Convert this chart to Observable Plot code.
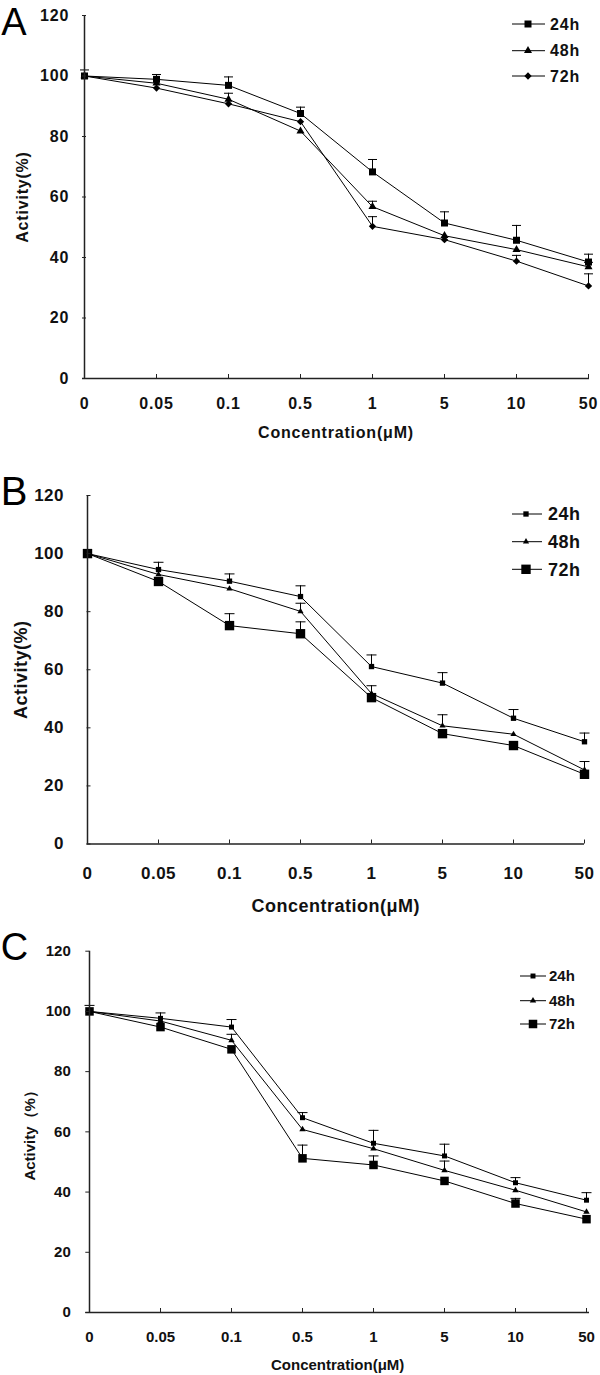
<!DOCTYPE html>
<html><head><meta charset="utf-8">
<script src="https://cdn.jsdelivr.net/npm/d3@7"></script>
<script src="https://cdn.jsdelivr.net/npm/@observablehq/plot@0.6"></script>
<style>
body{margin:0;background:#fff}
#wrap{position:relative;width:600px;height:1375px;overflow:hidden;background:#fff}
.panel{position:absolute;left:0;width:600px;overflow:visible}
.panel svg{overflow:visible}
.overlay{position:absolute;left:0;top:0;pointer-events:none}
</style>
</head><body><div id="wrap"></div>
<script>
const concentrations = ["0","0.05","0.1","0.5","1","5","10","50"];
const seriesNames = ["24h","48h","72h"];
const yTicks = [0,20,40,60,80,100,120];
const xTitle = "Concentration(μM)";

// Panel A
const a24 = [100, 98.9, 96.9, 87.6, 68.3, 51.4, 45.7, 38.5];
const a24Err = [2, 1.6, 2.8, 2.1, 4.1, 3.7, 4.9, 2.6];
const a48 = [100, 97.6, 92.3, 81.8, 56.8, 47.2, 42.6, 36.9];
const a48Err = [0, 0, 2, 0, 1.8, 0, 0, 1.5];
const a72 = [100, 96.0, 90.8, 84.9, 50.3, 45.9, 38.8, 30.6];
const a72Err = [0, 0, 0, 0, 3.2, 0, 1.9, 4.0];

// Panel B
const b24 = [100, 94.5, 90.5, 85.2, 61.1, 55.4, 43.3, 35.2];
const b24Err = [0, 2.5, 2.5, 3.7, 4.0, 3.6, 3.0, 3.0];
const b48 = [100, 92.8, 87.9, 80.1, 51.8, 40.7, 37.8, 25.5];
const b48Err = [0, 0, 0, 2.8, 2.7, 3.8, 0, 2.9];
const b72 = [100, 90.4, 75.2, 72.4, 50.4, 38.0, 33.9, 24.0];
const b72Err = [0, 0, 4.1, 4.1, 0, 0, 0, 0];

// Panel C
const c24 = [100, 97.7, 94.8, 64.7, 56.2, 52.0, 43.1, 37.3];
const c24Err = [2, 1.8, 2.5, 1.7, 4.3, 3.9, 1.7, 2.5];
const c48 = [100, 96.8, 90.4, 60.8, 54.4, 47.2, 40.6, 33.4];
const c48Err = [0, 0, 2, 0, 0, 3.1, 0, 0];
const c72 = [100, 94.8, 87.4, 51.2, 49.0, 43.7, 36.2, 31.0];
const c72Err = [0, 0, 0, 4.4, 3.0, 0, 1.7, 0];

const FONT = "'Liberation Sans', Arial, Helvetica, sans-serif";
const d3Symbols = {square: d3.symbolSquare, triangle: d3.symbolTriangle, diamond2: d3.symbolDiamond2};

const panels = [
  {letter:"A", top:0, height:450, mt:15, mr:11, mb:72, ml:82,
   values:[a24,a48,a72], errs:[a24Err,a48Err,a72Err],
   symbols:["square","triangle","diamond2"], radii:[3.95,3.0,3.3], capHalf:4.5,
   tickFont:16, spacing:"0.8px", xPad:23, yPad:17.4, titleFont:16, xTitleDy:54, yTitleX:22.7,
   yTitle:"Activity(%)", letterPos:[14,21,38],
   legend:{ys:[24,50.7,76], x1:512, x2:545, mx:528, tx:550, font:16}},
  {letter:"B", top:450, height:460, mt:45, mr:16, mb:66.5, ml:86.5,
   values:[b24,b48,b72], errs:[b24Err,b48Err,b72Err],
   symbols:["square","triangle","square"], radii:[3.0,2.3,5.3], capHalf:5,
   tickFont:17, spacing:"0.5px", xPad:26.5, yPad:27, titleFont:18, xTitleDy:62, yTitleX:21,
   yTitle:"Activity(%)", letterPos:[14,41,40],
   legend:{ys:[64,91.7,119.3], x1:512, x2:542, mx:526, tx:548, font:18}},
  {letter:"C", top:910, height:465, mt:40.7, mr:11, mb:63, ml:85.3,
   values:[c24,c48,c72], errs:[c24Err,c48Err,c72Err],
   symbols:["square","triangle","square"], radii:[2.8,2.4,4.8], capHalf:5,
   tickFont:15, spacing:"0px", xPad:23, yPad:19, titleFont:15, xTitleDy:53, yTitleX:30,
   yTitle:"Activity（%）", letterPos:[14.5,36,38],
   legend:{ys:[66,90.7,114], x1:520, x2:546, mx:533, tx:549, font:15}}
];

const wrap = document.getElementById("wrap");

panels.forEach(p => {
  const rows = [];
  seriesNames.forEach((s, si) => concentrations.forEach((c, i) => {
    rows.push({conc:c, series:s, si, value:p.values[si][i], err:p.errs[si][i]});
  }));
  const errRows = rows.filter(d => d.err > 0);
  const cap = {draw(ctx){ ctx.moveTo(-p.capHalf, 0); ctx.lineTo(p.capHalf, 0); }};

  const chart = Plot.plot({
    width:600, height:p.height,
    marginTop:p.mt, marginRight:p.mr, marginBottom:p.mb, marginLeft:p.ml,
    x:{type:"point", domain:concentrations, padding:0},
    y:{domain:[0,120]},
    style:{fontFamily:FONT, fontWeight:"bold", fontSize:p.tickFont+"px", letterSpacing:p.spacing, color:"#111", background:"transparent", overflow:"visible"},
    marks:[
      Plot.line(rows, {x:"conc", y:"value", z:"series", stroke:"#000", strokeWidth:1}),
      Plot.ruleX(errRows, {x:"conc", y1:"value", y2:d => d.value + d.err, stroke:"#000", strokeWidth:1}),
      Plot.dot(errRows, {x:"conc", y:d => d.value + d.err, symbol:cap, r:1, stroke:"#000", fill:"none", strokeWidth:1}),
      ...seriesNames.map((s, si) => Plot.dot(rows.filter(d => d.si === si),
        {x:"conc", y:"value", symbol:p.symbols[si], r:p.radii[si], fill:"#000", stroke:"none"})),
      Plot.ruleY([0], {stroke:"#222", strokeWidth:1.5}),
      Plot.ruleX([concentrations[0]], {stroke:"#222", strokeWidth:1.5}),
      Plot.axisX({label:null, tickSize:-4, tickPadding:p.xPad, stroke:"#222", fontSize:p.tickFont, fontWeight:"bold"}),
      Plot.axisY({label:null, ticks:yTicks, tickFormat:d => String(d), tickSize:-4, tickPadding:p.yPad, stroke:"#222", fontSize:p.tickFont, fontWeight:"bold"}),
      Plot.text([xTitle], {frameAnchor:"bottom", dy:p.xTitleDy, textAnchor:"middle", lineAnchor:"middle", text:d => d, fontSize:p.titleFont, fontWeight:"bold", fill:"#111"}),
      Plot.text([p.yTitle], {frameAnchor:"left", dx:p.yTitleX - p.ml, rotate:-90, textAnchor:"middle", lineAnchor:"middle", text:d => d, fontSize:p.titleFont, fontWeight:"bold", fill:"#111"})
    ]
  });

  const div = document.createElement("div");
  div.className = "panel";
  div.style.top = p.top + "px";
  div.style.height = p.height + "px";
  div.appendChild(chart);

  // overlay: panel letter + legend
  const svg = d3.create("svg").attr("class","overlay").attr("width",600).attr("height",p.height)
    .style("font-family", FONT);
  const [lx, ly, ls] = p.letterPos;
  svg.append("text").attr("x", lx).attr("y", ly + 0.358*ls).attr("text-anchor","middle")
    .attr("font-size", ls).attr("font-weight","normal").attr("fill","#000").text(p.letter);
  const L = p.legend;
  seriesNames.forEach((s, si) => {
    const y = L.ys[si];
    svg.append("line").attr("x1",L.x1).attr("x2",L.x2).attr("y1",y).attr("y2",y)
      .attr("stroke","#000").attr("stroke-width",1);
    const r = p.radii[si];
    svg.append("path").attr("transform",`translate(${L.mx},${y})`)
      .attr("d", d3.symbol(d3Symbols[p.symbols[si]], r*r*Math.PI)()).attr("fill","#000");
    svg.append("text").attr("x",L.tx).attr("y", y + 0.358*L.font).attr("font-size",L.font)
      .attr("font-weight","bold").attr("fill","#111").style("letter-spacing", p.spacing).text(s);
  });
  div.appendChild(svg.node());
  wrap.appendChild(div);
});
</script>
</body></html>
